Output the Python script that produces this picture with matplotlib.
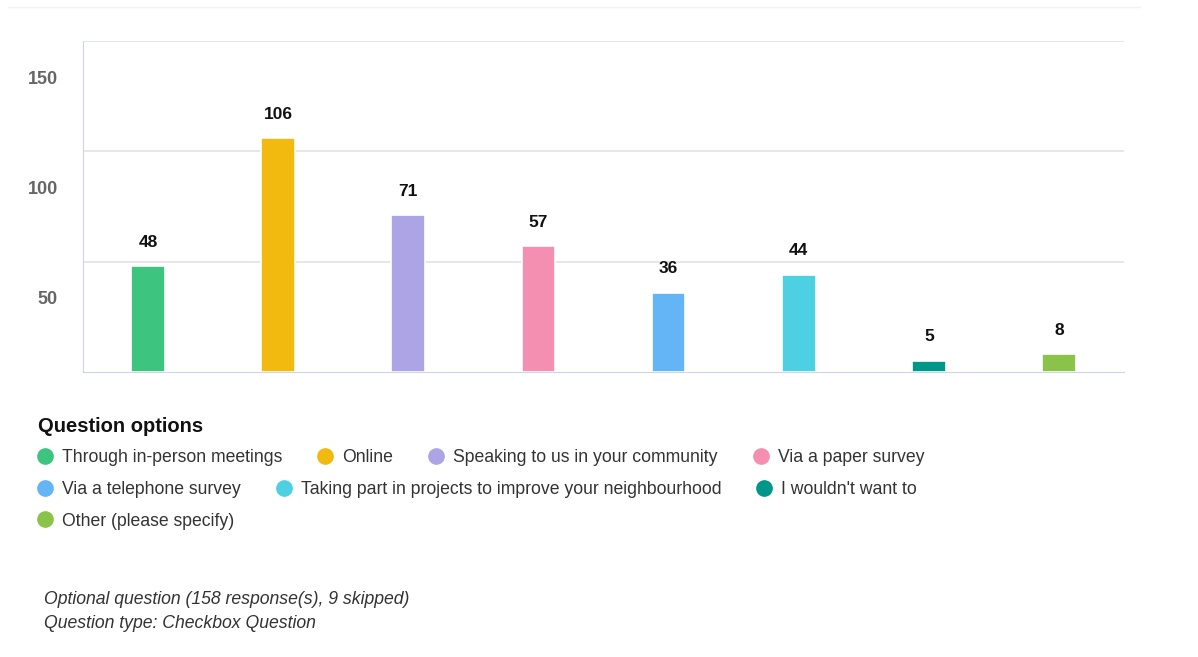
import matplotlib.pyplot as plt
from matplotlib.transforms import ScaledTranslation
from matplotlib.lines import Line2D

plt.rcParams['font.family'] = ['Liberation Sans', 'DejaVu Sans']

options = ["Through in-person meetings", "Online", "Speaking to us in your community",
           "Via a paper survey", "Via a telephone survey",
           "Taking part in projects to improve your neighbourhood",
           "I wouldn't want to", "Other (please specify)"]
counts = [48, 106, 71, 57, 36, 44, 5, 8]
colors = ["#3dc47e", "#f2b90f", "#ada4e6", "#f48fb1", "#64b5f6", "#4dd0e1", "#009688", "#8bc34a"]
yticks = [50, 100, 150]
footer = ["Optional question (158 response(s), 9 skipped)", "Question type: Checkbox Question"]

W, H = 1198, 657
fig = plt.figure(figsize=(W / 100, H / 100), dpi=100)

def fx(px):
    return px / W

def fy(py):
    return 1 - py / H

ax = fig.add_axes([fx(83), fy(372), fx(1124) - fx(83), fy(41) - fy(372)])
x = list(range(len(counts)))
ax.bar(x, counts, width=0.26, color=colors, edgecolor="white", linewidth=1.2, zorder=3)
for xi, c in zip(x, counts):
    ax.annotate(str(c), (xi, c), xytext=(0, 24), textcoords="offset pixels",
                ha="center", va="center", fontsize=12.5, fontweight="bold", color="#111111")

ax.set_xlim(-0.5, len(counts) - 0.5)
ax.set_ylim(0, 150)
ax.set_yticks(yticks)
ax.set_xticks([])
ax.grid(axis="y", color="#e3e3e3", linewidth=1.2, zorder=0)
for s in ["top", "right"]:
    ax.spines[s].set_visible(False)
ax.spines["left"].set_color("#ccd6eb")
ax.spines["bottom"].set_color("#ccd6eb")
ax.tick_params(axis="y", length=0, pad=18, labelsize=13, labelcolor="#666666")
offset = ScaledTranslation(0, -0.36, fig.dpi_scale_trans)
for lab in ax.get_yticklabels():
    lab.set_transform(lab.get_transform() + offset)
    lab.set_fontweight("bold")

# faint top separator
fig.add_artist(Line2D([fx(8), fx(1140)], [fy(7), fy(7)], color="#f2f2f2", linewidth=1))

# legend
fig.text(fx(38), fy(427), "Question options", fontsize=14.5, fontweight="bold",
         color="#111111", va="center")
renderer = fig.canvas.get_renderer()
cx, row = 45, 0
row_y = [456, 488, 519]
for name, col in zip(options, colors):
    t = fig.text(0, 0, name, fontsize=12.7, color="#333333", va="center_baseline")
    w = t.get_window_extent(renderer).width
    if cx + 17 + w > 1120 and cx > 45:
        cx = 45
        row += 1
    y = row_y[row]
    fig.add_artist(Line2D([fx(cx)], [fy(y)], marker="o", markersize=11,
                          color=col, linestyle="none"))
    t.set_position((fx(cx + 17), fy(y)))
    cx = cx + 17 + w + 43

for i, line in enumerate(footer):
    fig.text(fx(44), fy(600 + 24 * i), line, fontsize=12.7, fontstyle="italic",
             color="#333333", va="center")

fig.savefig("out.png", dpi=100)
